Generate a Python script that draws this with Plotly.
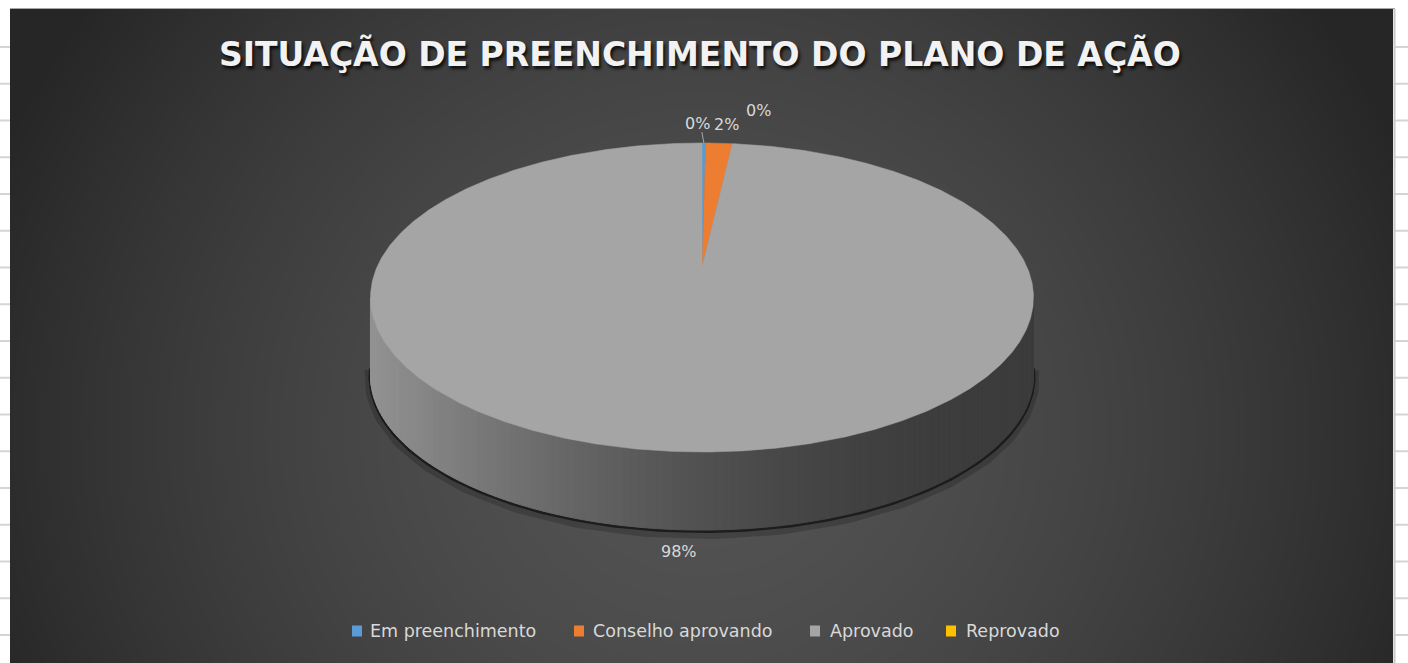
import base64
import struct
import zlib

import numpy as np
import plotly.graph_objects as go

# ---------------- data ----------------
categories = ["Em preenchimento", "Conselho aprovando", "Aprovado", "Reprovado"]
counts = [1, 7, 442, 0]
slice_colors = ["#5B9BD5", "#ED7D31", "#A5A5A5", "#FFC000"]
title_text = "SITUAÇÃO DE PREENCHIMENTO DO PLANO DE AÇÃO"

# ---------------- geometry / style (pixels) ----------------
W, H = 1408, 663
CX, CY = 702, 267          # projected pie centre
RX, RY, K = 325, 148.5, 0.1974   # radii and perspective factor
DEPTH = 78                 # thickness of the pie
CHART_X0, CHART_Y0 = 10, 9
CHART_X1 = 1393
TEXT_COL = "#d9d9d9"
FONT = "DejaVu Sans"
label_nudge = [(-6, 0), (7, 0), (0, 0), (56, -13)]
show_leader = [True, False, False, False]
legend_sq_x = [357, 579, 815, 951]
legend_txt_x = [368, 591, 828, 964]
LEGEND_Y = 631


def project(theta_deg):
    t = np.radians(theta_deg)
    u = np.sin(t)
    v = -np.cos(t)
    w = 1 - K * v
    return CX + RX * u / w, CY + RY * v / w


def hex_rgb(h):
    h = h.lstrip("#")
    return tuple(int(h[i:i + 2], 16) for i in (0, 2, 4))


def png_data_uri(arr):
    h, w, _ = arr.shape
    raw = b"".join(b"\x00" + arr[i].tobytes() for i in range(h))

    def chunk(tag, data):
        c = struct.pack(">I", len(data)) + tag + data
        return c + struct.pack(">I", zlib.crc32(tag + data) & 0xFFFFFFFF)

    png = (b"\x89PNG\r\n\x1a\n"
           + chunk(b"IHDR", struct.pack(">IIBBBBB", w, h, 8, 2, 0, 0, 0))
           + chunk(b"IDAT", zlib.compress(raw, 9))
           + chunk(b"IEND", b""))
    return "data:image/png;base64," + base64.b64encode(png).decode()


# ---------------- background gradient image ----------------
gw, gh = (CHART_X1 - CHART_X0) // 2, (H - CHART_Y0) // 2
gx = CHART_X0 + np.arange(gw) * 2.0
gy = CHART_Y0 + np.arange(gh) * 2.0
GX, GY = np.meshgrid(gx, gy)
d = np.sqrt(((GX - 700) / 760.0) ** 2 + ((GY - 430) / 720.0) ** 2)
d = np.clip(d, 0, 1)
val = 0x53 - (0x53 - 0x26) * d ** 1.6
bg = np.repeat(val[:, :, None], 3, axis=2).round().astype(np.uint8)
bg_uri = png_data_uri(bg)

fig = go.Figure()

# ---------------- slice angles from data ----------------
total = float(sum(counts))
starts, ends = [], []
acc = 0.0
for c in counts:
    starts.append(acc / total * 360.0)
    acc += c
    ends.append(acc / total * 360.0)

front_a, front_b = np.degrees(np.arccos(-K)), 360 - np.degrees(np.arccos(-K))

# shadow under the pie
th = np.linspace(front_a - 3, front_b + 3, 200)
sx, sy = project(th)
fig.add_trace(go.Scatter(x=sx, y=sy + DEPTH + 3, mode="lines",
                         line=dict(color="rgba(0,0,0,0.18)", width=12),
                         hoverinfo="skip", showlegend=False))
fig.add_trace(go.Scatter(x=sx, y=sy + DEPTH + 1, mode="lines",
                         line=dict(color="rgba(20,20,20,0.8)", width=4),
                         hoverinfo="skip", showlegend=False))

# side walls (front arc only)
for i, cat in enumerate(categories):
    a = max(starts[i], front_a)
    b = min(ends[i], front_b)
    if counts[i] == 0 or b <= a:
        continue
    base = np.array(hex_rgb(slice_colors[i]), dtype=float)
    n = max(2, int((b - a) / 1.2))
    edges = np.linspace(a, b, n + 1)
    for j in range(n):
        tt = np.linspace(edges[j], edges[j + 1], 4)
        px, py = project(tt)
        xs = np.concatenate([px, px[::-1], px[:1]])
        ys = np.concatenate([py, py[::-1] + DEPTH, py[:1]])
        t = np.clip((px.mean() - (CX - RX)) / (2 * RX), 0, 1)
        shade = (60 + 86 * (1 - t) ** 2) / 165.0
        r, g, bb = np.clip(base * shade, 0, 255).astype(int)
        col = f"rgb({r},{g},{bb})"
        fig.add_trace(go.Scatter(x=xs, y=ys, mode="lines", fill="toself",
                                 fillcolor=col, line=dict(color=col, width=1),
                                 hoverinfo="skip", showlegend=False))

# top faces
for i, cat in enumerate(categories):
    if counts[i] == 0:
        continue
    n = max(3, int((ends[i] - starts[i]) / 0.5))
    tt = np.linspace(starts[i], ends[i], n + 1)
    px, py = project(tt)
    xs = np.concatenate([[CX], px, [CX]])
    ys = np.concatenate([[CY], py, [CY]])
    fig.add_trace(go.Scatter(x=xs, y=ys, mode="lines", fill="toself",
                             fillcolor=slice_colors[i],
                             line=dict(color=slice_colors[i], width=0.5),
                             name=cat, hoverinfo="name", showlegend=False))

# data labels
annotations = []
for i, cat in enumerate(categories):
    mid = (starts[i] + ends[i]) / 2.0
    px, py = project(mid)
    v = -np.cos(np.radians(mid))
    if v < 0:
        lx, ly = px, py - 19
    else:
        lx, ly = px, py + DEPTH + 22
    lx += label_nudge[i][0]
    ly += label_nudge[i][1]
    pct = f"{round(counts[i] / total * 100):.0f}%"
    annotations.append(dict(x=lx, y=ly, xref="x", yref="y", text=pct,
                            showarrow=False, xanchor="center", yanchor="middle",
                            font=dict(family=FONT, size=16, color=TEXT_COL)))
    if show_leader[i]:
        fig.add_trace(go.Scatter(x=[lx + 4, px], y=[ly + 8, py], mode="lines",
                                 line=dict(color="#a6a6a6", width=1),
                                 hoverinfo="skip", showlegend=False))

# title
annotations.append(dict(x=700, y=54, xref="x", yref="y", text=title_text,
                        showarrow=False, xanchor="center", yanchor="middle",
                        font=dict(family=FONT, size=33, color="#f2f2f2",
                                  weight="bold",
                                  shadow="2px 3px 3px rgba(0,0,0,0.75)")))

# legend (manual)
shapes = []
for i, cat in enumerate(categories):
    shapes.append(dict(type="rect", xref="x", yref="y",
                       x0=legend_sq_x[i] - 5, x1=legend_sq_x[i] + 5,
                       y0=LEGEND_Y - 5.5, y1=LEGEND_Y + 5.5,
                       fillcolor=slice_colors[i], line=dict(width=0)))
    annotations.append(dict(x=legend_txt_x[i], y=LEGEND_Y, xref="x", yref="y",
                            text=cat, showarrow=False, xanchor="left",
                            yanchor="middle",
                            font=dict(family=FONT, size=17.5, color=TEXT_COL)))

# spreadsheet grid outside the chart
for k in range(18):
    yy = 47 + 36.75 * k
    for x0, x1 in ((0, CHART_X0), (CHART_X1 + 2, W)):
        shapes.append(dict(type="line", xref="x", yref="y", x0=x0, x1=x1,
                           y0=yy, y1=yy, line=dict(color="#d4d4d4", width=2),
                           layer="below"))
# chart border
shapes.append(dict(type="line", xref="x", yref="y", x0=CHART_X0, x1=CHART_X1 + 2,
                   y0=CHART_Y0 - 0.5, y1=CHART_Y0 - 0.5,
                   line=dict(color="#a6a6a6", width=1), layer="below"))
shapes.append(dict(type="line", xref="x", yref="y", x0=CHART_X1 + 1.5,
                   x1=CHART_X1 + 1.5, y0=CHART_Y0, y1=H,
                   line=dict(color="#c8c8c8", width=2), layer="below"))

fig.update_layout(
    width=W, height=H,
    margin=dict(l=0, r=0, t=0, b=0),
    paper_bgcolor="white", plot_bgcolor="rgba(0,0,0,0)",
    xaxis=dict(range=[0, W], visible=False, fixedrange=True),
    yaxis=dict(range=[H, 0], visible=False, fixedrange=True),
    showlegend=False,
    annotations=annotations,
    shapes=shapes,
    images=[dict(source=bg_uri, xref="paper", yref="paper",
                 x=CHART_X0 / W, y=1 - CHART_Y0 / H,
                 sizex=(CHART_X1 - CHART_X0) / W, sizey=(H - CHART_Y0) / H,
                 xanchor="left", yanchor="top", sizing="stretch",
                 layer="below")],
)

fig.write_html("out.html", config={"displayModeBar": False},
               post_script="document.body.style.margin='0';")
